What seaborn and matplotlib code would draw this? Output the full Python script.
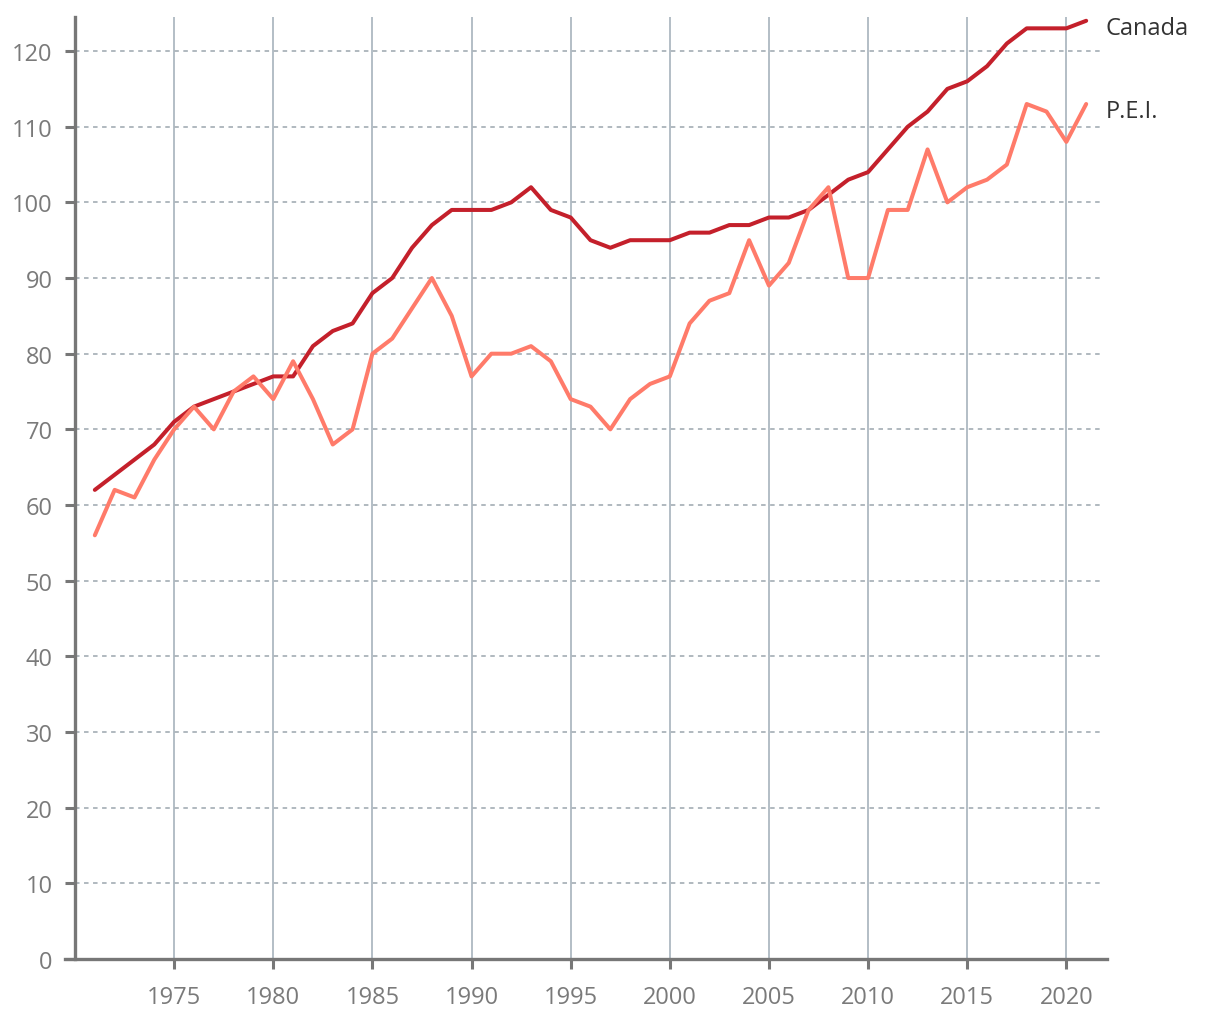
import matplotlib
matplotlib.use("Agg")
import matplotlib.pyplot as plt
import seaborn as sns
import pandas as pd

years = list(range(1971, 2022))
canada = [62, 64, 66, 68, 71, 73, 74, 75, 76, 77, 77, 81, 83, 84, 88, 90, 94, 97, 99, 99,
          99, 100, 102, 99, 98, 95, 94, 95, 95, 95, 96, 96, 97, 97, 98, 98, 99, 101, 103, 104,
          107, 110, 112, 115, 116, 118, 121, 123, 123, 123, 124]
pei = [56, 62, 61, 66, 70, 73, 70, 75, 77, 74, 79, 74, 68, 70, 80, 82, 86, 90, 85, 77,
       80, 80, 81, 79, 74, 73, 70, 74, 76, 77, 84, 87, 88, 95, 89, 92, 99, 102, 90, 90,
       99, 99, 107, 100, 102, 103, 105, 113, 112, 108, 113]
series_names = ["Canada", "P.E.I."]
x_ticks = list(range(1975, 2021, 5))
y_ticks = list(range(0, 121, 10))

df = pd.DataFrame({
    "year": years * 2,
    "value": canada + pei,
    "region": ["Canada"] * len(years) + ["P.E.I."] * len(years),
})

sns.set_theme(style="ticks")
plt.rcParams["font.family"] = ["Open Sans", "DejaVu Sans"]

colors = {"Canada": "#c4202b", "P.E.I.": "#ff7b6a"}

fig = plt.figure(figsize=(12.2, 10.2), dpi=100)
ax = fig.add_axes([75 / 1220, 1 - 960 / 1020, (1107 - 75) / 1220, (960 - 18) / 1020])

sns.lineplot(data=df, x="year", y="value", hue="region", palette=colors,
             linewidth=2.9, legend=False, ax=ax, zorder=3)

ax.set_xlim(1970, 2022.05)
ax.set_ylim(0, 124.5)
ax.set_xticks(x_ticks)
ax.set_yticks(y_ticks)
ax.set_xlabel("")
ax.set_ylabel("")

for x in x_ticks:
    ax.axvline(x, color="#b3bec6", linewidth=1.4, zorder=1)
for y in y_ticks[1:]:
    ax.plot([1970, 2021.85], [y, y], color="#aab3ba", linewidth=1.3,
            linestyle=(0, (2.5, 2.5)), zorder=1, clip_on=False)

for s in ["top", "right"]:
    ax.spines[s].set_visible(False)
for s in ["left", "bottom"]:
    ax.spines[s].set_color("#777777")
    ax.spines[s].set_linewidth(2.4)
ax.spines["bottom"].set_bounds(1969.5, 2022.05)

ax.tick_params(axis="both", colors="#777777", labelsize=17, length=7, width=2.2,
               direction="out", bottom=True, left=True)
ax.tick_params(axis="x", pad=12)
ax.tick_params(axis="y", pad=9)
for lab in ax.get_xticklabels() + ax.get_yticklabels():
    lab.set_color("#7a7a7a")

for name, vals in zip(series_names, [canada, pei]):
    ax.annotate(name, xy=(years[-1], vals[-1]), xytext=(14, -5),
                textcoords="offset points", ha="left", va="center",
                fontsize=17, color="#333333", annotation_clip=False)

fig.savefig("out.png", dpi=100)
